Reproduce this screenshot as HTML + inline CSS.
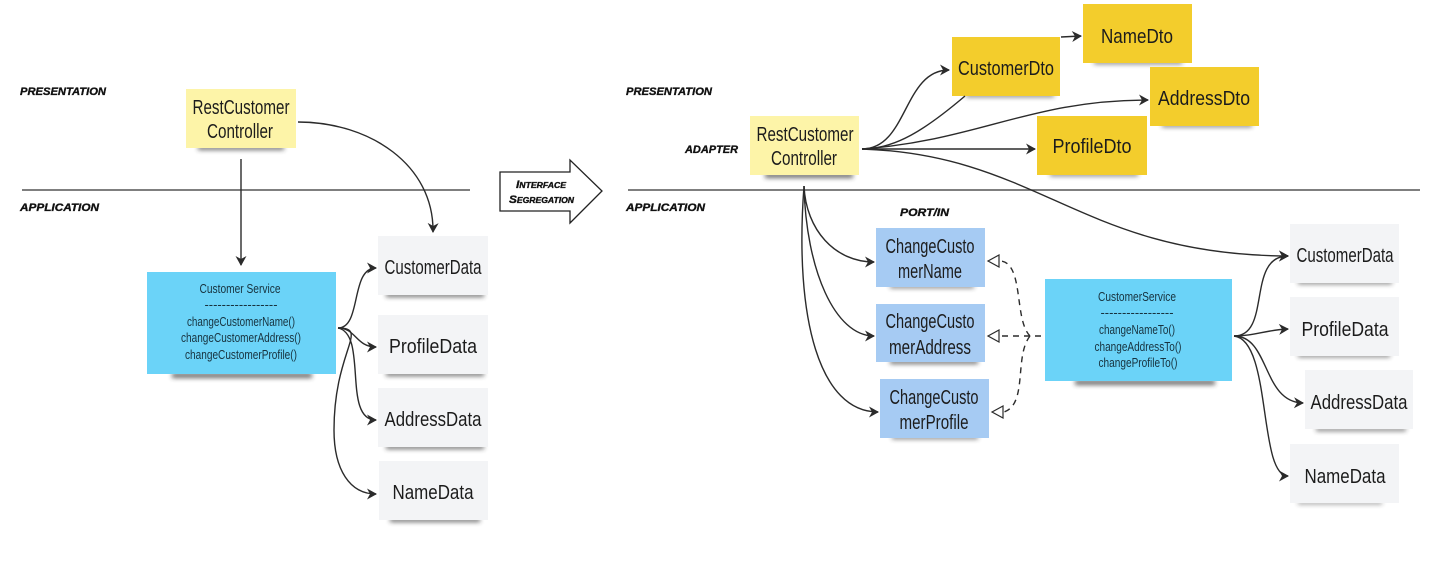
<!DOCTYPE html>
<html><head><meta charset="utf-8"><style>
html,body{margin:0;padding:0;background:#fff;width:1456px;height:570px;overflow:hidden}
svg{display:block}
.t{font-family:"Liberation Sans Narrow","Liberation Sans",sans-serif;font-size:20px;fill:#1c1c1c;text-anchor:middle}
.s{font-family:"Liberation Sans Narrow","Liberation Sans",sans-serif;font-size:13px;fill:#17323e;text-anchor:middle}
.l{font-family:"Liberation Sans",sans-serif;font-size:11px;font-weight:bold;font-style:italic;fill:#111;stroke:#111;stroke-width:.35}
.c{fill:none;stroke:#2b2b2b;stroke-width:1.4}
.a{marker-end:url(#ah)}
.d{stroke-dasharray:6 5}
.h{fill:#fff;stroke:#2b2b2b;stroke-width:1.2}
.sh{fill:#333;opacity:.72;filter:url(#bl)}
</style></head><body>
<svg width="1456" height="570" viewBox="0 0 1456 570" xmlns="http://www.w3.org/2000/svg">
<defs>
<filter id="bl" x="-20%" y="-300%" width="140%" height="700%"><feGaussianBlur stdDeviation="2.4"/></filter>
<marker id="ah" markerUnits="userSpaceOnUse" markerWidth="14" markerHeight="14" refX="10" refY="7" orient="auto"><path d="M1 1.5L11 7L1 12.5L4 7Z" fill="#2b2b2b"/></marker>
</defs>

<path d="M22 190H470M628 190H1420" stroke="#555" stroke-width="1.6" fill="none"/>

<rect class="sh" x="198" y="146" width="86" height="4"/>
<rect class="sh" x="172" y="373" width="140" height="5"/>
<rect class="sh" x="386" y="293" width="98" height="4"/>
<rect class="sh" x="386" y="372" width="98" height="4"/>
<rect class="sh" x="386" y="445" width="98" height="4"/>
<rect class="sh" x="390" y="518" width="90" height="4"/>
<rect class="sh" x="765" y="173" width="88" height="5"/>
<rect class="sh" x="966" y="94" width="88" height="3"/>
<rect class="sh" x="1094" y="61" width="88" height="3"/>
<rect class="sh" x="1162" y="124" width="90" height="3"/>
<rect class="sh" x="1050" y="173" width="88" height="3"/>
<rect class="sh" x="890" y="285" width="84" height="3"/>
<rect class="sh" x="890" y="360" width="88" height="4"/>
<rect class="sh" x="892" y="436" width="86" height="3"/>
<rect class="sh" x="1075" y="380" width="140" height="5"/>
<rect class="sh" x="1298" y="281" width="94" height="3"/>
<rect class="sh" x="1298" y="354" width="92" height="3"/>
<rect class="sh" x="1316" y="428" width="90" height="3"/>
<rect class="sh" x="1298" y="502" width="84" height="2"/>

<g fill="#fdf4a8">
<rect x="186" y="89" width="110" height="59"/>
<rect x="750" y="116" width="109" height="59"/>
</g>
<g fill="#6bd3f8">
<rect x="147" y="272" width="189" height="102"/>
<rect x="1045" y="279" width="187" height="102"/>
</g>
<g fill="#f3f4f6">
<rect x="378" y="236" width="110" height="59"/>
<rect x="378" y="315" width="110" height="59"/>
<rect x="378" y="388" width="110" height="59"/>
<rect x="379" y="461" width="109" height="59"/>
<rect x="1290" y="224" width="109" height="59"/>
<rect x="1290" y="297" width="109" height="59"/>
<rect x="1305" y="370" width="108" height="59"/>
<rect x="1290" y="444" width="109" height="59"/>
</g>
<g fill="#f3cd2c">
<rect x="952" y="37" width="108" height="59"/>
<rect x="1083" y="4" width="109" height="59"/>
<rect x="1150" y="67" width="109" height="59"/>
<rect x="1037" y="116" width="110" height="59"/>
</g>
<g fill="#a6cbf3">
<rect x="876" y="228" width="109" height="59"/>
<rect x="876" y="304" width="109" height="58"/>
<rect x="880" y="379" width="109" height="59"/>
</g>

<path class="c a" d="M241 159V265"/>
<path class="c a" d="M298 122C370 122 434 165 433 232"/>
<path class="c a" d="M338 328C362 328 350 268 376 268"/>
<path class="c a" d="M338 328C356 328 356 347 376 347"/>
<path class="c a" d="M338 328C368 334 342 420 376 420"/>
<path class="c a" d="M338 328C370 328 334 350 334 430C334 470 350 494 376 494"/>

<path class="c a" d="M862 149C908 149 903 70 949 70"/>
<path class="c" d="M862 149C895 149 925 130 965 96"/>
<path class="c a" d="M862 149C980 140 1030 100 1148 100"/>
<path class="c a" d="M862 149H1035"/>
<path class="c a" d="M862 149C1040 155 1080 255 1288 256"/>
<path class="c a" d="M1061 37L1081 36"/>
<path class="c a" d="M804 186C806 230 835 262 874 262"/>
<path class="c a" d="M804 186C806 270 835 336 874 336"/>
<path class="c a" d="M804 186C794 320 820 412 878 412"/>
<path class="c a" d="M1234 336C1272 336 1246 256 1288 256"/>
<path class="c a" d="M1234 336C1255 336 1265 330 1288 329"/>
<path class="c a" d="M1234 336C1270 336 1262 402 1303 403"/>
<path class="c a" d="M1234 336C1272 340 1258 476 1288 476"/>

<path class="c d" d="M1041 336H1000"/>
<path class="c d" d="M1030 336C1014 320 1024 264 1001 261"/>
<path class="c d" d="M1030 336C1014 356 1028 404 1004 412"/>
<path class="h" d="M988 261L999 255V267Z"/>
<path class="h" d="M988 336L999 330V342Z"/>
<path class="h" d="M992 412L1003 406V418Z"/>

<path d="M500 172H570V160L602 191L570 223V211H500Z" fill="#fff" stroke="#222" stroke-width="1.3"/>
<text class="l" x="516" y="188" style="font-variant:small-caps" textLength="50" lengthAdjust="spacingAndGlyphs">Interface</text>
<text class="l" x="509" y="203" style="font-variant:small-caps" textLength="65" lengthAdjust="spacingAndGlyphs">Segregation</text>

<text class="l" x="20" y="95" textLength="86" lengthAdjust="spacingAndGlyphs">PRESENTATION</text>
<text class="l" x="20" y="211" textLength="79" lengthAdjust="spacingAndGlyphs">APPLICATION</text>
<text class="l" x="626" y="95" textLength="86" lengthAdjust="spacingAndGlyphs">PRESENTATION</text>
<text class="l" x="626" y="211" textLength="79" lengthAdjust="spacingAndGlyphs">APPLICATION</text>
<text class="l" x="685" y="153" textLength="53" lengthAdjust="spacingAndGlyphs">ADAPTER</text>
<text class="l" x="900" y="216" textLength="49" lengthAdjust="spacingAndGlyphs">PORT/IN</text>

<text class="t" x="241" y="114" textLength="97" lengthAdjust="spacingAndGlyphs">RestCustomer</text>
<text class="t" x="240" y="138" textLength="66" lengthAdjust="spacingAndGlyphs">Controller</text>
<text class="t" x="805" y="141" textLength="97" lengthAdjust="spacingAndGlyphs">RestCustomer</text>
<text class="t" x="804" y="165" textLength="66" lengthAdjust="spacingAndGlyphs">Controller</text>

<text class="t" x="433" y="274" textLength="97" lengthAdjust="spacingAndGlyphs">CustomerData</text>
<text class="t" x="433" y="353" textLength="88" lengthAdjust="spacingAndGlyphs">ProfileData</text>
<text class="t" x="433" y="426" textLength="97" lengthAdjust="spacingAndGlyphs">AddressData</text>
<text class="t" x="433" y="499" textLength="81" lengthAdjust="spacingAndGlyphs">NameData</text>

<text class="t" x="1345" y="262" textLength="97" lengthAdjust="spacingAndGlyphs">CustomerData</text>
<text class="t" x="1345" y="336" textLength="87" lengthAdjust="spacingAndGlyphs">ProfileData</text>
<text class="t" x="1359" y="409" textLength="97" lengthAdjust="spacingAndGlyphs">AddressData</text>
<text class="t" x="1345" y="483" textLength="81" lengthAdjust="spacingAndGlyphs">NameData</text>

<text class="t" x="1006" y="75" textLength="96" lengthAdjust="spacingAndGlyphs">CustomerDto</text>
<text class="t" x="1137" y="43" textLength="72" lengthAdjust="spacingAndGlyphs">NameDto</text>
<text class="t" x="1204" y="105" textLength="92" lengthAdjust="spacingAndGlyphs">AddressDto</text>
<text class="t" x="1092" y="153" textLength="79" lengthAdjust="spacingAndGlyphs">ProfileDto</text>

<text class="t" x="930" y="253" textLength="89" lengthAdjust="spacingAndGlyphs">ChangeCusto</text>
<text class="t" x="930" y="278" textLength="64" lengthAdjust="spacingAndGlyphs">merName</text>
<text class="t" x="930" y="328" textLength="89" lengthAdjust="spacingAndGlyphs">ChangeCusto</text>
<text class="t" x="930" y="354" textLength="82" lengthAdjust="spacingAndGlyphs">merAddress</text>
<text class="t" x="934" y="404" textLength="89" lengthAdjust="spacingAndGlyphs">ChangeCusto</text>
<text class="t" x="934" y="429" textLength="69" lengthAdjust="spacingAndGlyphs">merProfile</text>

<text class="s" x="240" y="293" textLength="81" lengthAdjust="spacingAndGlyphs">Customer Service</text>
<text class="s" x="241" y="309" textLength="73" lengthAdjust="spacingAndGlyphs">-----------------</text>
<text class="s" x="241" y="326" textLength="108" lengthAdjust="spacingAndGlyphs">changeCustomerName()</text>
<text class="s" x="241" y="342" textLength="120" lengthAdjust="spacingAndGlyphs">changeCustomerAddress()</text>
<text class="s" x="241" y="359" textLength="112" lengthAdjust="spacingAndGlyphs">changeCustomerProfile()</text>

<text class="s" x="1137" y="301" textLength="78" lengthAdjust="spacingAndGlyphs">CustomerService</text>
<text class="s" x="1137" y="317" textLength="73" lengthAdjust="spacingAndGlyphs">-----------------</text>
<text class="s" x="1137" y="334" textLength="76" lengthAdjust="spacingAndGlyphs">changeNameTo()</text>
<text class="s" x="1138" y="351" textLength="87" lengthAdjust="spacingAndGlyphs">changeAddressTo()</text>
<text class="s" x="1138" y="367" textLength="79" lengthAdjust="spacingAndGlyphs">changeProfileTo()</text>
</svg>
</body></html>
